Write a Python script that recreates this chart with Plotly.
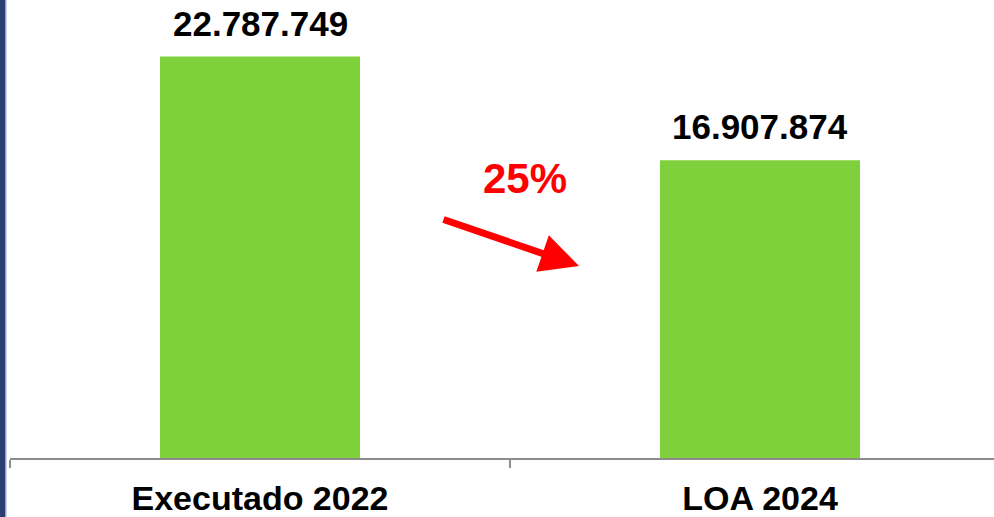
"""
Executado 2022 x LOA 2024 - gráfico de barras
"""

import plotly.graph_objects as go

# dados
categorias = ['Executado 2022', 'LOA 2024']
valores = [22787749, 16907874]
variacao = '25%'

COR_BARRA = '#7FD13B'
COR_EIXO = '#8C8C8C'
FONTE = 'Liberation Sans, Arial, sans-serif'


def fmt_br(v: int) -> str:
    """formata número com ponto como separador de milhar"""
    return f"{v:,}".replace(",", ".")


fig = go.Figure()
fig.add_trace(go.Bar(
    x=categorias,
    y=valores,
    width=0.4,
    marker=dict(color=COR_BARRA, line=dict(width=0)),
    hoverinfo='skip'
))

# rótulos de valor acima das barras
for cat, val in zip(categorias, valores):
    fig.add_annotation(
        x=cat, y=val, text=f"<b>{fmt_br(val)}</b>",
        showarrow=False, yanchor='bottom', yshift=12,
        font=dict(family=FONTE, size=35, color='black')
    )

# seta de variação
fig.add_annotation(
    x=0.638, y=10.9e6, ax=-137, ay=-47,
    xref='x', yref='y', text='',
    showarrow=True, arrowhead=2, arrowsize=1.1, arrowwidth=7,
    arrowcolor='#FF0000', standoff=0
)
fig.add_annotation(
    x=0.53, y=15.85e6, xref='x', yref='y',
    text=f"<b>{variacao}</b>", showarrow=False,
    font=dict(family=FONTE, size=42, color='#FF0000')
)

# faixa azul na lateral esquerda
fig.add_shape(type='rect', xref='paper', yref='paper',
              x0=-10 / 984, x1=-4.5 / 984, y0=-1, y1=2,
              fillcolor='#2B3F73', line=dict(width=0), layer='above')
fig.add_shape(type='rect', xref='paper', yref='paper',
              x0=-4.5 / 984, x1=-3.5 / 984, y0=-1, y1=2,
              fillcolor='#9AAAD0', line=dict(width=0), layer='above')

fig.update_layout(
    width=994, height=517,
    margin=dict(l=10, r=0, t=0, b=56),
    paper_bgcolor='white', plot_bgcolor='white',
    showlegend=False, bargap=0.6,
    font=dict(family=FONTE),
    xaxis=dict(
        range=[-0.5, 1.468],
        showline=True, linecolor=COR_EIXO, linewidth=2,
        ticks='outside', tickson='boundaries', ticklen=8,
        tickcolor=COR_EIXO, tickwidth=2,
        tickfont=dict(family=FONTE, size=34, color='black'),
        tickprefix='<b>', ticksuffix='</b>',
        ticklabelstandoff=9,
        showgrid=False, zeroline=False
    ),
    yaxis=dict(
        range=[0, 26.0e6], visible=False,
        showgrid=False, zeroline=False
    )
)

fig.write_html("out.html", config={'displayModeBar': False},
               post_script="document.body.style.margin='0';")
